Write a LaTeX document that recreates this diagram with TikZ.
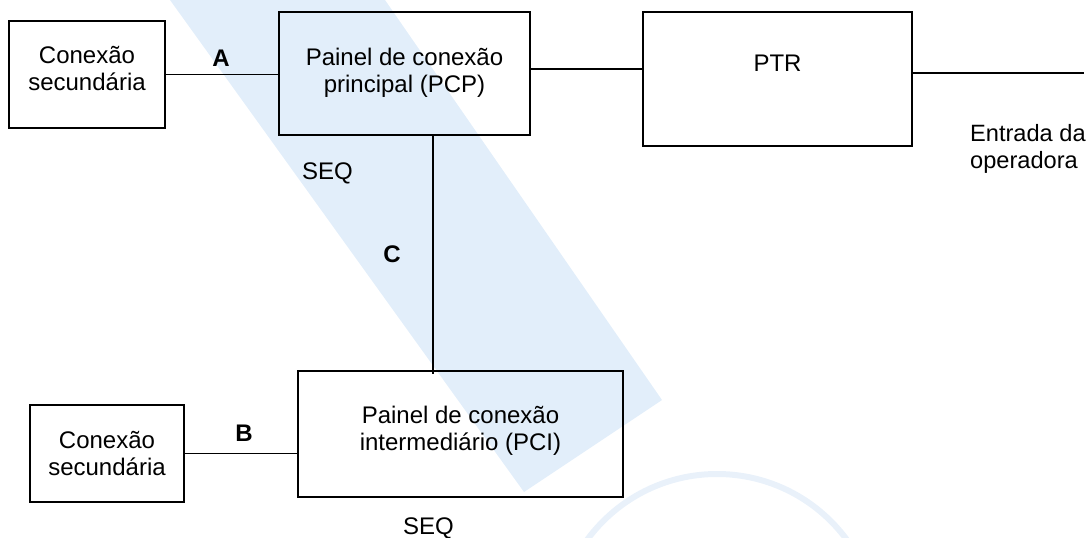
\documentclass[tikz,border=0pt]{standalone}
\usepackage{fontspec}
\setmainfont{Liberation Sans}
\usetikzlibrary{calc}
\definecolor{wmblue}{RGB}{226,238,250}
\definecolor{wmring}{RGB}{233,241,250}
\begin{document}
\begin{tikzpicture}[x=1pt,y=-1pt,
  box/.style={draw=black,line width=1.8pt,inner sep=0pt,fill=none},
  conn/.style={draw=black,line width=1.8pt},
  txt/.style={inner sep=0pt,font=\fontsize{24}{27}\selectfont,align=center},
  lbl/.style={inner sep=0pt,font=\fontsize{24}{27}\selectfont\bfseries}]
\useasboundingbox (0,0) rectangle (1088,538);
% watermark band and seal
\fill[wmblue] (170,0) -- (385,0) -- (662,400) -- (524,492) -- cycle;
\draw[wmring,line width=6pt] (717,635) circle[radius=161];
% boxes
\node[box,minimum width=156pt,minimum height=107pt] (ls1) at (87,74.5) {};
\node[box,minimum width=251pt,minimum height=123pt] (pcp) at (404.5,73.5) {};
\node[box,minimum width=269pt,minimum height=134pt] (ptr) at (777.5,79) {};
\node[box,minimum width=325pt,minimum height=126pt] (pci) at (460.5,434) {};
\node[box,minimum width=154pt,minimum height=97pt] (ls2) at (107,453.5) {};
% box texts
\node[txt,anchor=north] (t1) at (87,46) {Conexão\\secundária};
\node[txt,anchor=north] (t2) at (404.5,47.5) {Painel de conexão\\principal (PCP)};
\node[txt,anchor=base] (t3) at (777.5,71) {PTR};
\node[txt,anchor=north] (t4) at (460.5,406) {Painel de conexão\\intermediário (PCI)};
\node[txt,anchor=north] (t5) at (107,431) {Conexão\\secundária};
% free texts
\node[txt,anchor=north west,align=left,font=\fontsize{23.6}{27}\selectfont] (entrada) at (970,124.5) {Entrada da\\operadora};
\node[txt,anchor=base west] (seq1) at (302,179) {SEQ};
\node[txt,anchor=base west] (seq2) at (403,534) {SEQ};
\node[lbl,anchor=base] (la) at (221,66) {A};
\node[lbl,anchor=base] (lb) at (244,441) {B};
\node[lbl,anchor=base] (lc) at (392,262) {C};
% connectors
\coordinate (entr) at (1084,73);
\draw[conn] (ls1.east) -- (ls1.east -| pcp.west);
\draw[conn] (pcp.east |- 0,69) -- (ptr.west |- 0,69);
\draw[conn] (ptr.east |- entr) -- (entr);
\draw[conn] (pcp.south -| 433,0) -- ($(pci.north -| 433,0)+(0,4)$);
\draw[conn] (ls2.east) -- (ls2.east -| pci.west);
\end{tikzpicture}
\end{document}
